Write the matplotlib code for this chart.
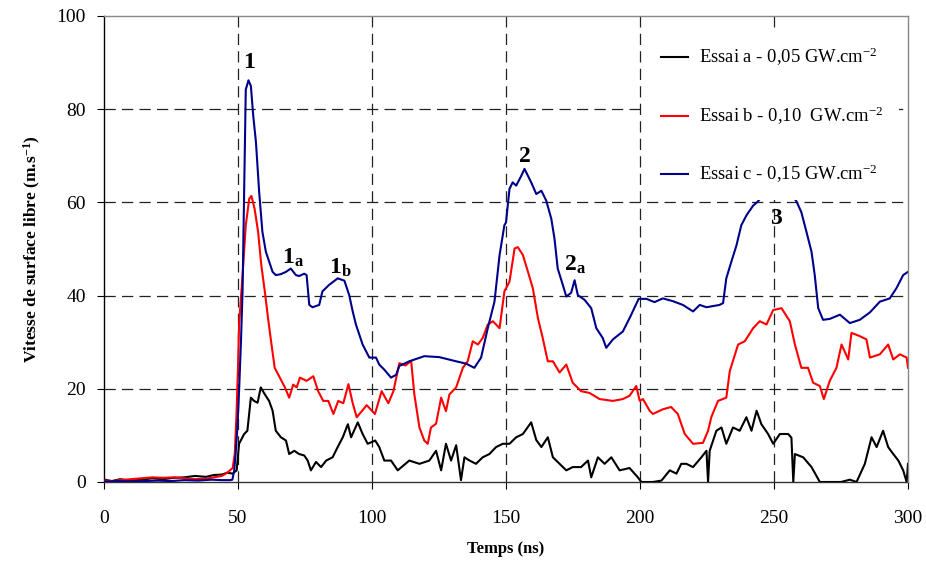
import matplotlib
matplotlib.use("Agg")
import matplotlib.pyplot as plt

plt.rcParams['font.family'] = ['Liberation Serif', 'DejaVu Serif']
plt.rcParams['mathtext.fontset'] = 'custom'
plt.rcParams['mathtext.rm'] = 'Liberation Serif'
plt.rcParams['mathtext.bf'] = 'Liberation Serif:bold'
plt.rcParams['mathtext.it'] = 'Liberation Serif:italic'

# ---- data ----
t_a = [0, 3, 6, 10, 14, 18, 22, 26, 30, 34, 38, 41, 44, 46, 48, 49.5, 50.4, 52.3, 53.5, 54.8,
       56.0, 57.3, 58.5, 59.8, 61.6, 62.9, 64.1, 66.0, 67.9, 69.1, 71.0, 72.8, 74.7, 76.0, 77.2,
       79.1, 81.0, 82.9, 85.3, 87.2, 89.1, 91.0, 92.2, 94.7, 96.5, 98.4, 101.2, 102.7, 104.6,
       107.1, 109.6, 113.9, 117.7, 121.4, 123.9, 125.8, 127.6, 129.5, 131.4, 133.2, 134.5, 136.4,
       138.8, 141.3, 143.8, 146.3, 148.8, 151.3, 153.8, 156.3, 159.4, 161.3, 163.2, 165.6, 167.5,
       170.0, 172.5, 174.9, 178.0, 180.6, 181.8, 184.3, 186.8, 189.3, 192.4, 196.1, 199.2, 200.5,
       204.8, 208.0, 211.1, 213.6, 215.4, 217.3, 219.8, 222.9, 224.8, 225.4, 226.0, 228.5, 230.4,
       232.2, 234.7, 237.2, 239.7, 241.6, 243.5, 245.3, 247.8, 249.7, 252.2, 255.3, 256.5, 257.2,
       257.8, 260.9, 264.0, 267.1, 272.1, 275.0, 278.3, 280.8, 283.9, 286.4, 288.3, 290.7, 292.6,
       294.5, 296.4, 298.2, 299.5, 300]
v_a = [0.5, 0.2, 0.6, 0.3, 0.5, 0.8, 0.6, 0.9, 1.0, 1.3, 1.1, 1.5, 1.6, 2.0, 1.8, 2.5, 8.2, 10.3, 11.0, 18.1,
       17.4, 17.0, 20.3, 19.0, 17.4, 15.3, 11.0, 9.6, 8.9, 6.0, 6.7, 6.0, 5.7, 4.6, 2.5,
       4.3, 3.2, 4.6, 5.3, 7.5, 9.6, 12.4, 9.6, 12.8, 10.3, 8.2, 8.9, 7.5, 4.6,
       4.6, 2.5, 4.6, 3.9, 4.6, 6.7, 2.5, 8.2, 4.6, 7.9, 0.4, 5.3, 4.6,
       3.9, 5.3, 6.0, 7.5, 8.2, 8.2, 9.6, 10.3, 12.8, 9.0, 7.5, 9.6, 5.3,
       3.9, 2.5, 3.2, 3.2, 4.6, 1.0, 5.3, 3.9, 5.3, 2.5, 3.0, 1.0, 0.0,
       0.0, 0.3, 2.5, 1.8, 3.9, 3.9, 3.2, 5.3, 6.7, 0.0, 6.7, 11.0, 11.7,
       8.2, 11.7, 11.0, 13.9, 11.0, 15.3, 12.4, 10.3, 8.2, 10.3, 10.3, 9.5, 0.0,
       6.0, 5.3, 3.2, 0.0, 0.0, 0.0, 0.5, 0.0, 3.9, 9.6, 7.5, 11.0, 7.5,
       6.0, 4.6, 2.5, 0.0, 3.9]

t_b = [0, 3, 6, 10, 14, 18, 22, 26, 30, 34, 38, 41, 44, 46, 48, 48.8, 49.4, 50.0, 50.4, 51.7,
       52.9, 54.2, 55.0, 56.2, 57.5, 58.7, 60.0, 61.2, 62.5, 63.7, 65.6, 67.5, 69.1, 70.6, 71.9,
       73.1, 75.6, 78.1, 79.9, 81.8, 83.7, 85.6, 87.4, 89.3, 91.2, 92.8, 94.3, 96.2, 98.0, 101.1,
       103.6, 106.1, 108.0, 110.2, 112.5, 114.6, 115.8, 117.7, 119.5, 120.8, 122.0, 123.9, 125.8,
       127.6, 128.9, 131.4, 133.9, 135.7, 137.6, 139.5, 141.3, 143.2, 145.1, 147.6, 149.4, 151.3,
       153.2, 154.4, 156.3, 158.2, 160.0, 161.9, 163.7, 165.6, 167.5, 170.0, 172.5, 174.9, 178.0,
       181.2, 184.9, 189.9, 193.6, 196.1, 198.6, 199.9, 201.1, 203.6, 204.8, 208.5, 211.6, 214.1,
       216.7, 219.8, 223.5, 225.4, 226.6, 229.1, 232.2, 233.5, 236.6, 239.1, 242.2, 244.7, 247.2,
       249.7, 252.8, 255.9, 257.8, 260.2, 262.7, 264.6, 267.1, 268.6, 270.8, 273.3, 275.2, 277.7,
       278.9, 282.0, 284.5, 285.8, 289.5, 292.6, 294.5, 297.0, 299.5, 300]
v_b = [0.3, 0.2, 0.4, 0.6, 0.8, 1.0, 0.9, 1.0, 0.8, 0.6, 0.7, 1.0, 1.3, 2.0, 3.0, 6.0, 14.0, 24.5, 33.8, 44.4,
       55.1, 60.8, 61.4, 58.6, 53.7, 46.5, 40.9, 35.2, 29.5, 24.5, 22.4, 20.3, 18.1, 20.9, 20.3,
       22.4, 21.7, 22.7, 19.5, 17.4, 17.4, 14.6, 17.4, 16.9, 21.0, 16.9, 13.9, 15.2, 16.5, 14.6,
       19.5, 16.9, 19.5, 25.5, 25.0, 26.0, 18.8, 11.7, 8.9, 8.2, 11.7, 12.5, 18.1,
       15.2, 18.8, 20.3, 24.5, 25.9, 30.2, 29.5, 30.9, 33.8, 34.5, 33.0, 40.9, 43.0,
       50.1, 50.4, 48.7, 45.1, 41.6, 35.2, 30.9, 25.9, 25.9, 23.5, 25.2, 21.3, 19.5,
       19.1, 17.8, 17.4, 17.8, 18.5, 20.6, 17.4, 17.8, 15.3, 14.6, 15.6, 16.1, 14.6,
       10.3, 8.2, 8.4, 11.0, 13.9, 17.4, 18.1, 23.8, 29.5, 30.2, 33.0, 34.5, 33.8,
       36.9, 37.3, 34.5, 29.5, 24.5, 24.5, 21.3, 20.6, 17.8, 21.7, 24.5, 29.5, 26.3,
       32.0, 31.3, 30.6, 26.7, 27.4, 29.5, 26.3, 27.4, 26.7, 24.5]

t_c = [0, 5, 10, 15, 20, 25, 30, 35, 40, 44, 47, 47.9, 48.6, 49.2, 49.8, 50.4, 51.1, 51.7, 52.3, 52.9,
       53.9, 54.8, 55.7, 56.7, 57.9, 59.1, 60.4, 61.6, 62.9, 64.1, 66.0, 67.9, 69.7, 71.6, 72.8,
       74.7, 75.6, 76.6, 77.8, 80.3, 81.5, 84.0, 87.2, 89.7, 91.5, 92.8, 94.0, 96.5, 99.0, 101.5,
       102.7, 104.6, 107.1, 109.0, 110.2, 113.9, 119.5, 125.1, 131.4, 135.1, 138.2, 140.7, 143.2,
       145.7, 147.6, 149.4, 150.0, 151.3, 152.5, 153.8, 155.7, 156.9, 158.2, 159.4, 161.3, 163.2,
       165.0, 166.9, 168.1, 169.3, 171.2, 172.5, 174.3, 175.6, 176.8, 179.3, 181.8, 183.7, 186.1,
       187.4, 189.9, 193.6, 196.4, 199.5, 202.4, 205.4, 208.5, 212.3, 216.0, 219.8, 222.3, 224.8,
       229.7, 231.0, 232.2, 234.1, 236.0, 237.8, 239.7, 242.2, 244.0, 247.0, 251.0, 255.0, 258.4,
       260.2, 262.1, 264.0, 265.2, 266.5, 268.3, 270.8, 274.6, 278.3, 282.0, 285.8, 289.5, 293.2,
       295.7, 298.2, 300]
v_c = [0.1, 0.2, 0.1, 0.2, 0.3, 0.2, 0.4, 0.3, 0.5, 0.4, 0.4, 0.5, 2.5, 6.7, 12.0, 19.5, 30.0, 40.9, 62.2, 84.2,
       86.2, 85.0, 78.5, 72.9, 62.2, 53.7, 49.4, 47.3, 45.1, 44.4, 44.6, 45.1, 45.8, 44.4, 44.2,
       44.7, 44.4, 38.0, 37.5, 38.0, 40.9, 42.3, 43.7, 43.2, 40.1, 36.6, 33.8, 29.5, 26.7, 26.7,
       25.2, 24.1, 22.4, 23.0, 24.9, 25.9, 27.0, 26.8, 25.9, 25.4, 24.5, 26.7, 33.0,
       38.7, 48.7, 55.1, 55.7, 62.9, 64.3, 63.6, 65.7, 67.2, 65.7, 64.3, 61.8, 62.5,
       60.4, 56.5, 52.2, 45.8, 42.3, 39.8, 40.6, 43.3, 40.1, 39.1, 37.3, 33.0, 30.9,
       28.8, 30.6, 32.3, 35.5, 39.3, 39.3, 38.6, 39.4, 38.8, 38.0, 36.6, 38.0, 37.5,
       38.0, 38.4, 43.7, 47.3, 50.8, 55.1, 57.2, 59.3, 60.2, 62.5, 63.5, 63.0, 60.2,
       57.9, 53.7, 49.4, 44.4, 37.3, 34.8, 35.0, 35.9, 34.1, 34.8, 36.4, 38.7, 39.4,
       41.6, 44.4, 45.1]

labels = ["Essai a - 0,05 GW.cm$^{-2}$",
          "Essai b - 0,10  GW.cm$^{-2}$",
          "Essai c - 0,15 GW.cm$^{-2}$"]
colors = ["#000000", "#ff0000", "#00008b"]

annot_text = [r"$\mathbf{1}$", r"$\mathbf{1}_\mathbf{a}$", r"$\mathbf{1}_\mathbf{b}$",
              r"$\mathbf{2}$", r"$\mathbf{2}_\mathbf{a}$", r"$\mathbf{3}$"]
annot_x = [54.2, 70.5, 88.0, 157.0, 175.8, 251.0]
annot_y = [90.0, 48.2, 46.0, 69.8, 46.6, 56.6]

xticks = [0, 50, 100, 150, 200, 250, 300]
yticks = [0, 20, 40, 60, 80, 100]

# ---- figure ----
fig = plt.figure(figsize=(9.26, 5.63), dpi=100)
ax = fig.add_axes([104/926, 1-482/563, (908-104)/926, (482-16)/563])

for t, v, c, lab in zip([t_a, t_b, t_c], [v_a, v_b, v_c], colors, labels):
    ax.plot(t, v, color=c, lw=1.5, label=lab, zorder=3)

ax.set_xlim(0, 300)
ax.set_ylim(0, 100)
ax.set_xticks(xticks)
ax.set_yticks(yticks)

for x in xticks[1:-1]:
    ax.axvline(x, color="#222222", lw=0.9, ls=(0, (9, 5)), zorder=1)
for y in yticks[1:-1]:
    ax.axhline(y, color="#222222", lw=0.9, ls=(0, (9, 5)), zorder=1)

ax.spines['top'].set_color('#888888')
ax.spines['right'].set_color('#888888')
ax.spines['left'].set_color('black')
ax.spines['bottom'].set_color('#333333')
for s in ax.spines.values():
    s.set_linewidth(1.0)
ax.spines['right'].set_zorder(7)
ax.spines['top'].set_zorder(7)

ax.tick_params(axis='both', direction='out', labelsize=14, top=False, right=False)
ax.tick_params(axis='x', length=5, pad=15)
ax.tick_params(axis='y', length=5, pad=8)

ax.set_xlabel("Temps (ns)", fontsize=12, fontweight='bold', labelpad=10)
ax.set_ylabel("Vitesse de surface libre (m.s$^{\\mathbf{-1}}$)", fontsize=12.5, fontweight='bold', labelpad=10)

for s, x, y in zip(annot_text, annot_x, annot_y):
    ax.text(x, y, s, fontsize=17, ha='center', va='center', zorder=6)

leg = ax.legend(loc='upper right', bbox_to_anchor=(1.0, 0.987), fontsize=13.4,
                frameon=True, fancybox=False, framealpha=1, facecolor='white', edgecolor='none',
                labelspacing=1.95, borderpad=0.8, handlelength=1.45, handletextpad=0.6)
leg.set_zorder(5)
for line in leg.get_lines():
    line.set_linewidth(1.5)

fig.savefig("out.png", dpi=100)
